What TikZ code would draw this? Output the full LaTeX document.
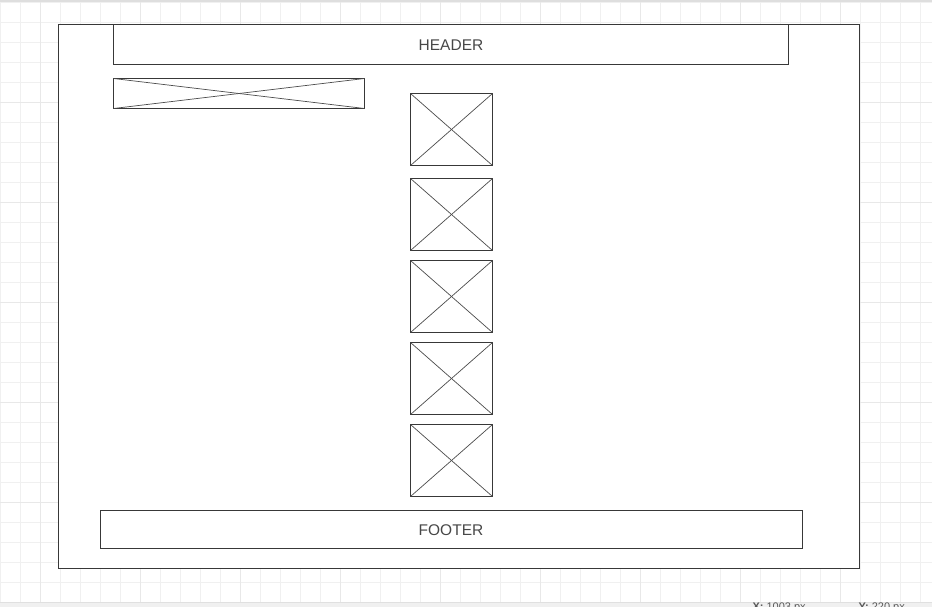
\documentclass[tikz,border=0pt]{standalone}
\usepackage{fontspec}
\setmainfont{Liberation Sans}
\begin{document}
\begin{tikzpicture}[x=1pt,y=-1pt,
  frame/.style={draw=black!78,line width=1pt},
  imgbox/.style={draw=black!78,line width=0.9pt},
  cross/.style={draw=black!70,line width=0.7pt},
  label/.style={text=black!72,font=\fontsize{15.5}{18}\selectfont},
  gridminor/.style={draw=black!6,line width=0.8pt},
  gridmajor/.style={draw=black!9,line width=0.8pt},
  stat/.style={text=black!65,font=\fontsize{11}{13}\selectfont,anchor=base west}]
\useasboundingbox (0,0) rectangle (932,607);
\fill[white] (0,0) rectangle (932,607);
\begin{scope}
\clip (0,0) rectangle (932,607);
% grid
\foreach \x in {0.7,20.7,...,932} {\draw[gridminor] (\x,0) -- (\x,607);}
\foreach \y in {2.3,22.3,...,607} {\draw[gridminor] (0,\y) -- (932,\y);}
\foreach \x in {40.7,140.7,...,932} {\draw[gridmajor] (\x,0) -- (\x,607);}
\foreach \y in {102.3,202.3,...,607} {\draw[gridmajor] (0,\y) -- (932,\y);}
% top bar
\fill[black!13] (0,0) rectangle (932,2);
% bottom status strip
\fill[black!6] (0,602) rectangle (932,607);
\draw[black!12,line width=0.6pt] (0,602) -- (932,602);
\node[stat] (sx) at (749,610.5) {\textbf{X:} 1003 px};
\node[stat] (sy) at (855,610.5) {\textbf{Y:} 220 px};
\end{scope}
% page frame
\fill[white] (58.5,24.5) rectangle (859.5,568.5);
\draw[frame] (58.5,24.5) rectangle (859.5,568.5);
% header
\draw[frame,fill=white] (113.5,24.5) rectangle (788.5,64.5);
\node[label] (header) at (451,45) {HEADER};
% logo placeholder
\draw[imgbox] (113.5,78.5) rectangle (364.5,108.5);
\draw[cross] (113.5,78.5) -- (364.5,108.5);
\draw[cross] (113.5,108.5) -- (364.5,78.5);
% image placeholders
\foreach \t/\b in {93.5/165.5,178.5/250.5,260.5/332.5,342.5/414.5,424.5/496.5} {
  \draw[imgbox] (410.5,\t) rectangle (492.5,\b);
  \draw[cross] (410.5,\t) -- (492.5,\b);
  \draw[cross] (410.5,\b) -- (492.5,\t);
}
% footer
\draw[frame] (100.5,510.5) rectangle (802.5,548.5);
\node[label] (footer) at (451,530) {FOOTER};
\end{tikzpicture}
\end{document}
